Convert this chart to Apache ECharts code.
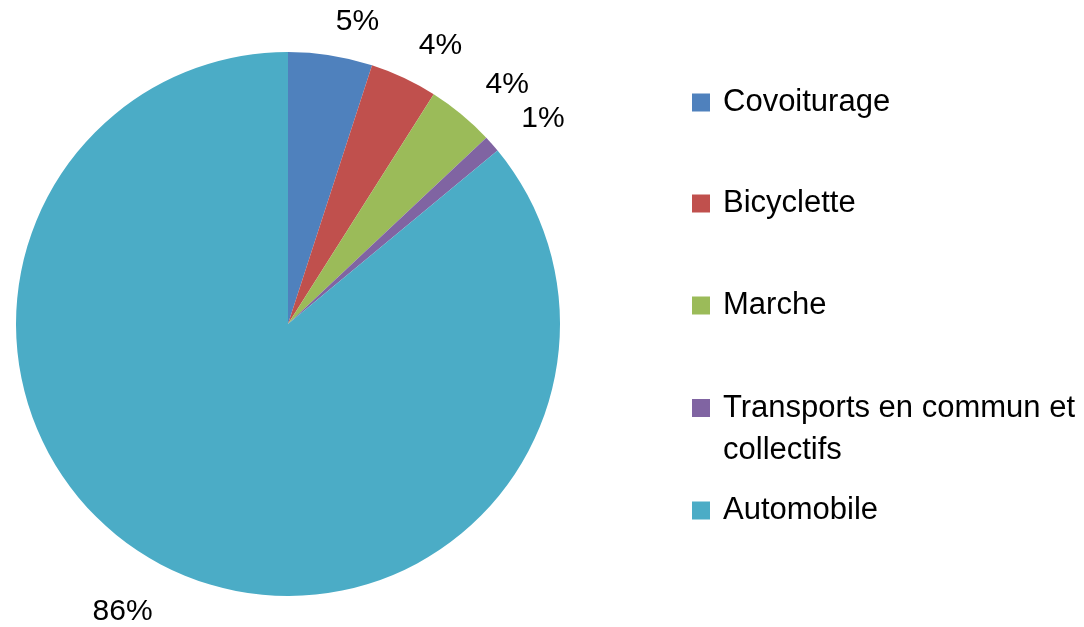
<!DOCTYPE html>
<html>
<head>
<meta charset="utf-8">
<script src="https://cdn.jsdelivr.net/npm/echarts@6/dist/echarts.min.js"></script>
<style>html,body{margin:0;padding:0;background:#fff}#c{width:1084px;height:627px}</style>
</head>
<body>
<div id="c"></div>
<script>
const categories = ['Covoiturage', 'Bicyclette', 'Marche', 'Transports en commun et collectifs', 'Automobile'];
const values = [5, 4, 4, 1, 86];
const colors = ['#4F81BD', '#C0504D', '#9BBB59', '#8064A2', '#4BACC6'];
const legendTops = [87, 188, 290, 345, 495];
const labelDistances = [34, 35, 38, 39, 46];

const font = 'Liberation Sans, Arial, sans-serif';
const chart = echarts.init(document.getElementById('c'));

const legends = categories.map((name, i) => {
  const multi = name.indexOf('Transports') === 0;
  return {
    orient: 'vertical',
    left: 692,
    top: legendTops[i],
    padding: 0,
    itemWidth: 18,
    itemHeight: 18,
    icon: 'rect',
    selectedMode: false,
    data: [name],
    formatter: multi ? () => ' \nTransports en commun et\ncollectifs' : '{name}',
    textStyle: {
      fontFamily: font,
      fontSize: 31,
      color: '#000',
      lineHeight: multi ? 42 : 18,
      padding: [0, 0, 0, 8]
    }
  };
});

chart.setOption({
  animation: false,
  color: colors,
  legend: legends,
  series: [{
    type: 'pie',
    center: [288, 324],
    radius: 272,
    startAngle: 90,
    clockwise: true,
    avoidLabelOverlap: false,
    data: categories.map((n, i) => ({
      name: n,
      value: values[i],
      labelLine: { length: labelDistances[i] }
    })),
    itemStyle: { borderWidth: 0 },
    label: {
      show: true,
      position: 'outside',
      formatter: p => Math.round(p.percent) + '%',
      fontFamily: font,
      fontSize: 30,
      color: '#000'
    },
    labelLine: { show: false, length: 36, length2: -5 },
    emphasis: { disabled: true }
  }]
});
</script>
</body>
</html>
